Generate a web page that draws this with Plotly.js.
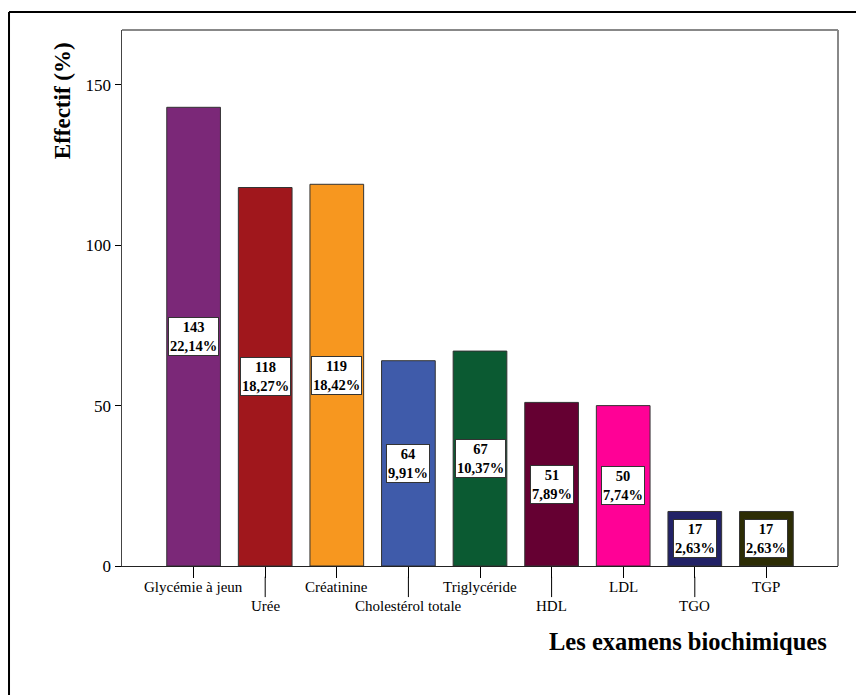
<!DOCTYPE html>
<html>
<head>
<meta charset="utf-8">
<script src="https://cdn.plot.ly/plotly-3.0.1.min.js"></script>
<style>html,body{margin:0;padding:0;background:#fff;}#chart{width:856px;height:695px;}</style>
</head>
<body>
<div id="chart"></div>
<script>
const categories = ["Glycémie à jeun","Urée","Créatinine","Cholestérol totale","Triglycéride","HDL","LDL","TGO","TGP"];
const counts = [143,118,119,64,67,51,50,17,17];
const percents = ["22,14%","18,27%","18,42%","9,91%","10,37%","7,89%","7,74%","2,63%","2,63%"];
const colors = ["#7B2878","#A0171C","#F7971F","#3F5BAA","#0B5A32","#650032","#FF0196","#222266","#2D2D05"];

const xs = categories.map((c,i)=>i);
const serif = "Liberation Serif";

const trace = {
  type: "bar",
  x: xs,
  y: counts,
  width: 0.75,
  marker: {color: colors, line: {color: "#333333", width: 1}},
  hoverinfo: "none"
};

const annotations = [];
categories.forEach((c,i)=>{
  annotations.push({
    x: i, y: counts[i]/2, xref: "x", yref: "y",
    text: "<b>" + counts[i] + "</b><br><b>" + percents[i] + "</b>",
    showarrow: false,
    font: {family: serif, size: 14.5, color: "#000"},
    bgcolor: "#ffffff", bordercolor: "#333333", borderwidth: 1, borderpad: 1
  });
  annotations.push({
    x: i, y: (i % 2 === 0) ? -0.039 : -0.075, xref: "x", yref: "paper",
    text: c, showarrow: false, yanchor: "middle",
    font: {family: serif, size: 15, color: "#000"}
  });
});
annotations.push({
  x: 0.9874, y: -0.14, xref: "paper", yref: "paper", xanchor: "right", yanchor: "middle",
  text: "<b>Les examens biochimiques</b>", showarrow: false,
  font: {family: serif, size: 24.5, color: "#000"}
});
annotations.push({
  x: -0.0838, y: 0.869, xref: "paper", yref: "paper", xanchor: "center", yanchor: "middle",
  text: "<b>Effectif (%)</b>", showarrow: false, textangle: -90,
  font: {family: serif, size: 23, color: "#000"}
});

const shapes = [];
categories.forEach((c,i)=>{
  if (i % 2 === 1) {
    shapes.push({type:"line", xref:"x", yref:"paper", x0:i, x1:i, y0:-0.02, y1:-0.058, line:{color:"#000", width:1}});
  }
});
shapes.push({type:"line", xref:"paper", yref:"paper", x0:0, x1:1, y0:1, y1:1, line:{color:"#888888", width:2}});
shapes.push({type:"line", xref:"paper", yref:"paper", x0:1, x1:1, y0:0, y1:1, line:{color:"#888888", width:2}});
shapes.push({type:"line", xref:"paper", yref:"paper", x0:-0.1578, x1:1.05, y0:1.0336, y1:1.0336, line:{color:"#000", width:2}});
shapes.push({type:"line", xref:"paper", yref:"paper", x0:-0.1578, x1:-0.1578, y0:-0.26, y1:1.0336, line:{color:"#000", width:2}});

const layout = {
  width: 856, height: 695,
  margin: {l:122, r:18, t:30, b:129, pad:0},
  paper_bgcolor: "#ffffff", plot_bgcolor: "#ffffff",
  showlegend: false,
  font: {family: serif},
  xaxis: {
    range: [-1, 9], tickvals: xs, showticklabels: false,
    ticks: "outside", ticklen: 11, tickcolor: "#000", tickwidth: 1,
    showline: true, linecolor: "#222", linewidth: 1, showgrid: false, zeroline: false, fixedrange: true
  },
  yaxis: {
    range: [0, 167.1], tickvals: [0,50,100,150],
    ticks: "outside", ticklen: 6, tickcolor: "#000", tickwidth: 1,
    tickfont: {family: serif, size: 17, color: "#000"},
    showline: true, linecolor: "#444", linewidth: 1.5, showgrid: false, zeroline: false, fixedrange: true
  },
  annotations: annotations,
  shapes: shapes
};

Plotly.newPlot("chart", [trace], layout, {displayModeBar: false, staticPlot: true});
</script>
</body>
</html>
